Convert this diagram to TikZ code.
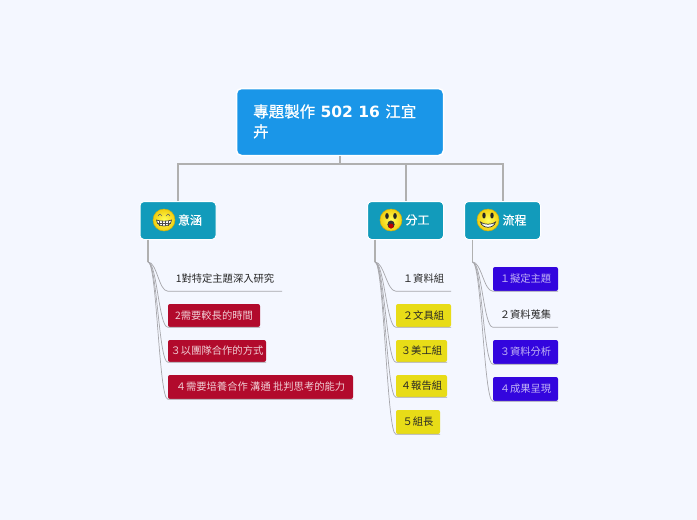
\documentclass[tikz,border=0pt]{standalone}
\usepackage{fontspec}
\usetikzlibrary{calc}
\setmainfont{DejaVu Sans}
\newfontfamily\cjkfont{Noto Sans CJK TC}
\newfontfamily\cjkheavy[FakeBold=0.5]{Noto Sans CJK TC}
\definecolor{pagebg}{HTML}{F4F7FF}
\definecolor{rootblue}{HTML}{1A96E8}
\definecolor{topicteal}{HTML}{129BBB}
\definecolor{linkgrey}{HTML}{B0B0B0}
\definecolor{leafline}{HTML}{C4C4CA}
\definecolor{leafred}{HTML}{B20A2C}
\definecolor{leafyellow}{HTML}{E8DC17}
\definecolor{leafblue}{HTML}{3305DE}
\definecolor{facey}{HTML}{F2CF10}
\tikzset{
  rootbox/.style={draw=white,line width=1.5pt,fill=rootblue,rounded corners=5pt,text=white,
    minimum width=207pt,minimum height=67pt,inner sep=0pt},
  topicbox/.style={draw=white,line width=1pt,fill=topicteal,rounded corners=4pt,text=white,
    minimum width=76pt,minimum height=38pt,inner sep=0pt},
  topiclabel/.style={text=white,inner sep=0pt,font=\cjkheavy\fontsize{12}{14}\selectfont},
  leafbox/.style={rounded corners=2pt,inner sep=0pt,font=\cjkfont\fontsize{10.3}{12}\selectfont},
  redleaf/.style={leafbox,fill=leafred,text=white!80!leafred},
  yellowleaf/.style={leafbox,fill=leafyellow,text=black!85},
  blueleaf/.style={leafbox,fill=leafblue,text=white!70!leafblue},
  plainleaf/.style={leafbox,text=black!85},
  rootlink/.style={linkgrey,line width=2pt},
  leaflink/.style={leafline!85!black,line width=0.7pt},
  faceball/.pic={
    \draw[draw=black!15!facey,line width=0.5pt,inner color=yellow!65!white,outer color=facey] (0,0) circle (11pt);
  }
}
\begin{document}
\begin{tikzpicture}[x=1pt,y=-1pt]
  \useasboundingbox[fill=pagebg] (0,0) rectangle (697,520);
  % central topic
  \node[rootbox] (root) at (340,122) {};
  \node[anchor=north west,align=left,text=white,inner sep=0pt,font=\fontsize{15.5}{20}\selectfont\bfseries] (roottext) at (253,104)
    {{\cjkheavy\mdseries 專題製作} 502 16 {\cjkheavy\mdseries 江宜}\\{\cjkheavy\mdseries 卉}};
  % main branches
  \node[topicbox] (meaning) at (178,220.5) {};
  \node[topicbox] (labor) at (405.5,220.5) {};
  \node[topicbox] (flow) at (502.5,220.5) {};
  \node[topiclabel] (meaningtext) at (190,220) {意涵};
  \node[topiclabel] (labortext) at (417.5,220) {分工};
  \node[topiclabel] (flowtext) at (514.5,220) {流程};
  \draw[rootlink] (root.south) -- ++(0,8) coordinate (bus);
  \draw[rootlink] (bus) -| (meaning.north);
  \draw[rootlink] (bus) -| (labor.north);
  \draw[rootlink] (bus) -| (flow.north);
  % leaves under meaning
  \node[plainleaf,minimum width=114pt,minimum height=24pt] (ma) at (225,279) {1對特定主題深入研究};
  \node[redleaf,minimum width=92pt,minimum height=23pt] (mb) at (214,315.5) {2需要較長的時間};
  \node[redleaf,minimum width=98pt,minimum height=22pt] (mc) at (217,351) {３以團隊合作的方式};
  \node[redleaf,minimum width=185pt,minimum height=24pt] (md) at (260.5,387) {４需要培養合作 溝通 批判思考的能力};
  % leaves under labor
  \node[plainleaf,minimum width=55pt,minimum height=24pt] (la) at (423.5,279) {１資料組};
  \node[yellowleaf,minimum width=55pt,minimum height=23pt] (lb) at (423.5,315.5) {２文具組};
  \node[yellowleaf,minimum width=51pt,minimum height=22pt] (lc) at (421.5,351) {３美工組};
  \node[yellowleaf,minimum width=51pt,minimum height=22pt] (ld) at (421.5,386) {４報告組};
  \node[yellowleaf,minimum width=44pt,minimum height=24pt] (le) at (418,422) {５組長};
  % leaves under flow
  \node[blueleaf,minimum width=65pt,minimum height=24pt] (fa) at (525.5,279) {１擬定主題};
  \node[plainleaf,minimum width=65pt,minimum height=24pt] (fb) at (525.5,315) {２資料蒐集};
  \node[blueleaf,minimum width=65pt,minimum height=24pt] (fc) at (525.5,352) {３資料分析};
  \node[blueleaf,minimum width=65pt,minimum height=24pt] (fd) at (525.5,389) {４成果呈現};
  % curved links
  \draw[rootlink,line width=1.5pt] (148,239.5) coordinate (mstem) -- (148,262) coordinate (mfork);
  \draw[rootlink,line width=1.5pt] (375,239.5) coordinate (lstem) -- (375,262) coordinate (lfork);
  \draw[rootlink,line width=1.5pt] (472.5,239.5) coordinate (fstem) -- (472.5,262) coordinate (ffork);
  \foreach \lf in {ma,mb,mc,md}
    \draw[leaflink] (mfork) .. controls ($(mfork)+(9,0)$) and ($(\lf.south west)+(-9,0)$) .. (\lf.south west) -- (\lf.south east);
  \foreach \lf in {la,lb,lc,ld,le}
    \draw[leaflink] (lfork) .. controls ($(lfork)+(9,0)$) and ($(\lf.south west)+(-9,0)$) .. (\lf.south west) -- (\lf.south east);
  \foreach \lf in {fa,fb,fc,fd}
    \draw[leaflink] (ffork) .. controls ($(ffork)+(9,0)$) and ($(\lf.south west)+(-9,0)$) .. (\lf.south west) -- (\lf.south east);
  % grinning face
  \pic at (164,220) {faceball};
  \draw[black!60,line width=0.6pt] (158,216) .. controls (159.5,213.5) and (161,213.5) .. (162,216);
  \draw[black!60,line width=0.6pt] (166,216) .. controls (167,213.5) and (168.5,213.5) .. (170,216);
  \draw[black!80,fill=white,line width=0.6pt] (156.5,220) .. controls (160,221.5) and (168,221.5) .. (171.5,220)
    .. controls (171,228) and (157,228) .. (156.5,220) -- cycle;
  \foreach \tx in {159.5,162.5,165.5,168.5}
    \draw[black!70,line width=0.4pt] (\tx,220.5) -- (\tx,226);
  \draw[black!70,line width=0.4pt] (157,223.3) -- (171,223.3);
  % shocked face
  \pic at (391,220) {faceball};
  \fill[black!85] (387,216) ellipse (1.8pt and 3pt);
  \fill[black!85] (395,216) ellipse (1.8pt and 3pt);
  \fill[black!80] (391,224.5) ellipse (3.6pt and 4pt);
  \fill[red!75!black] (391,226) ellipse (2.6pt and 2.4pt);
  % smiling face
  \pic at (488,220) {faceball};
  \fill[black!85] (484,215.5) ellipse (1.7pt and 3pt);
  \fill[black!85] (492,215.5) ellipse (1.7pt and 3pt);
  \draw[black!80,fill=white,line width=0.7pt] (480.5,222) .. controls (483,225) and (493,225) .. (495.5,222)
    .. controls (494,229) and (482,229) .. (480.5,222) -- cycle;
\end{tikzpicture}
\end{document}
